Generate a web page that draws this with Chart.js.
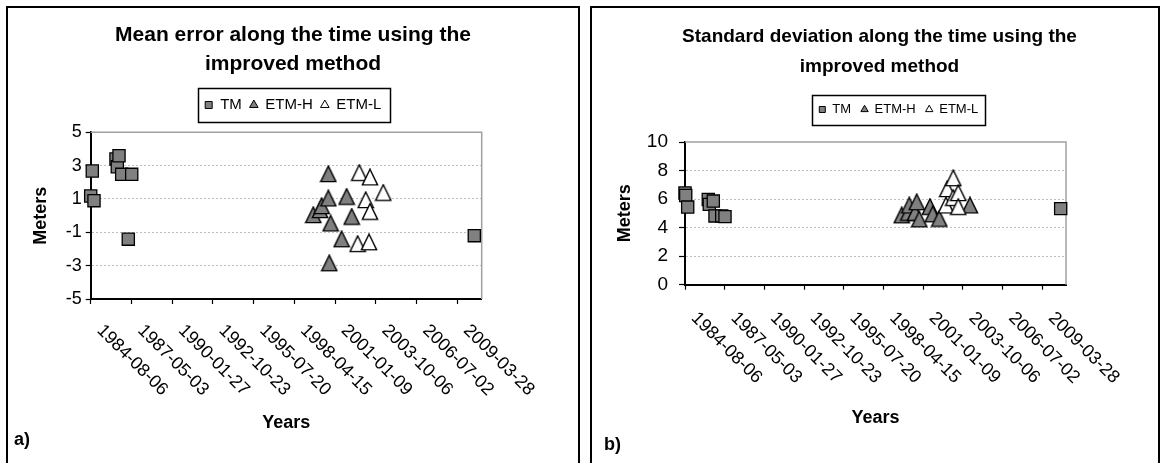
<!DOCTYPE html>
<html><head><meta charset="utf-8">
<script src="https://cdn.jsdelivr.net/npm/chart.js@4.4.1/dist/chart.umd.min.js"></script>
<style>
html,body{margin:0;padding:0;background:#fff;width:1163px;height:463px;overflow:hidden;position:relative;}
.panel{position:absolute;border:2px solid #000;box-sizing:border-box;}
canvas{position:absolute;}
</style></head><body>
<div class="panel" style="left:6px;top:6px;width:574px;height:480px"></div>
<div class="panel" style="left:590px;top:6px;width:570px;height:480px"></div>
<canvas id="c1" width="568" height="454" style="left:9px;top:9px"></canvas>
<canvas id="c2" width="567" height="454" style="left:590px;top:9px"></canvas>
<script>
// ---- shared axis data ----
const tickLabels = ['1984-08-06','1987-05-03','1990-01-27','1992-10-23','1995-07-20','1998-04-15','2001-01-09','2003-10-06','2006-07-02','2009-03-28'];
const tickDays = [0,1000,2000,3000,4000,5000,6000,7000,8000,9000]; // days since 1984-08-06
const axisMaxDays = 9600;
const seriesNames = ['TM','ETM-H','ETM-L'];

// ---- a) Mean error (days since 1984-08-06, metres) ----
const meanTmDays     = [0, 39, 81, 621, 653, 695, 761, 923, 1007, 9418];
const meanTmValues   = [1.18, 2.68, 0.90, 3.40, 2.93, 3.59, 2.48, -1.41, 2.48, -1.20];
const meanEtmHDays   = [5465, 5630, 5671, 5834, 5834, 5858, 5892, 6162, 6285, 6408];
const meanEtmHValues = [0.04, 0.34, 0.58, 2.50, 1.04, -2.85, -0.46, -1.41, 1.14, -0.06];
const meanEtmLDays   = [6555, 6595, 6752, 6833, 6857, 6857, 7184];
const meanEtmLValues = [-1.69, 2.57, 0.94, -1.59, 2.30, 0.24, 1.38];
const meanYTicks     = [-5, -3, -1, 1, 3, 5];

// ---- b) Standard deviation ----
const sdTmDays     = [0, 18, 68, 587, 612, 713, 756, 925, 1008, 9466];
const sdTmValues   = [6.43, 6.25, 5.44, 5.97, 5.63, 5.86, 4.82, 4.82, 4.77, 5.33];
const sdEtmHDays   = [5460, 5626, 5651, 5795, 5838, 5903, 6173, 6241, 6407, 7181];
const sdEtmHValues = [4.87, 5.05, 5.56, 5.05, 5.79, 4.59, 5.46, 4.94, 4.63, 5.56];
const sdEtmLDays   = [6576, 6609, 6760, 6760, 6886, 6886];
const sdEtmLValues = [5.56, 6.71, 7.47, 6.09, 6.43, 5.46];
const sdYTicks     = [0, 2, 4, 6, 8, 10];

const FONT = "'Liberation Sans', Arial, sans-serif";
Chart.defaults.font.family = FONT;
Chart.defaults.color = '#000';

// Linear day scale whose rotated labels hang down-right from the tick
const BaseLinear = Chart.LinearScale || Chart.registry.getScale('linear');
class DayScale extends BaseLinear {
  _getXAxisLabelAlignment() { return 'left'; }
}
DayScale.id = 'dayScale';
DayScale.defaults = BaseLinear.defaults;
Chart.register(DayScale);

function triImage(fill) {
  const c = document.createElement('canvas');
  c.width = 18; c.height = 18;
  const g = c.getContext('2d');
  g.beginPath();
  g.moveTo(9, 1.0); g.lineTo(16.6, 16.6); g.lineTo(1.4, 16.6); g.closePath();
  g.fillStyle = fill; g.fill();
  g.lineWidth = 1.4; g.strokeStyle = '#000'; g.lineJoin = 'miter'; g.stroke();
  return c;
}
const triGray = triImage('#808080');
const triWhite = triImage('#ffffff');
const legendStyles = ['rect', 'triangle', 'triangle'];

const extras = {
  id: 'extras',
  afterLayout(chart, args, o) {
    if (o.legendShift) { chart.legend.left += o.legendShift; chart.legend.right += o.legendShift; }
    if (o.titleShift) { chart.titleBlock.left += o.titleShift; chart.titleBlock.right += o.titleShift; }
  },
  beforeDatasetsDraw(chart, args, o) {
    const {ctx, chartArea: a} = chart;
    ctx.save();
    ctx.strokeStyle = '#a0a0a0'; ctx.lineWidth = 1.5;
    ctx.beginPath();
    ctx.moveTo(a.left, a.top); ctx.lineTo(a.right, a.top); ctx.lineTo(a.right, a.bottom);
    ctx.stroke();
    ctx.restore();
  },
  afterDraw(chart, args, o) {
    const ctx = chart.ctx;
    const hb = chart.legend.legendHitBoxes;
    if (hb && hb.length) {
      let l = Infinity, r = -Infinity;
      hb.forEach(h => { l = Math.min(l, h.left); r = Math.max(r, h.left + h.width); });
      const cy = hb[0].top + hb[0].height / 2;
      ctx.save();
      ctx.strokeStyle = '#000'; ctx.lineWidth = 1.5;
      ctx.strokeRect(Math.round(l - o.boxPadL) + 0.5, Math.round(cy - o.boxHalfH) + 0.5,
                     Math.round(r - l + o.boxPadL + o.boxPadR), Math.round(2 * o.boxHalfH));
      ctx.restore();
    }
    ctx.save();
    ctx.font = 'bold 18px ' + FONT;
    ctx.fillStyle = '#000'; ctx.textAlign = 'left'; ctx.textBaseline = 'middle';
    ctx.fillText(o.panelLabel, o.panelX, o.panelY);
    ctx.restore();
  }
};

function pts(days, vals) { return days.map((d, i) => ({x: d, y: vals[i]})); }

function buildConfig(p) {
  const ds = (label, data, style, fill, order, radius) => ({
    label, data, order, clip: false,
    pointStyle: style, pointRadius: radius, pointHoverRadius: radius,
    backgroundColor: fill, borderColor: '#000', borderWidth: 1.3,
    pointBackgroundColor: fill, pointBorderColor: '#000', pointBorderWidth: 1.3,
    showLine: false
  });
  const gridColor = (min, max) => c => (c.tick && (c.tick.value === min || c.tick.value === max)) ? 'rgba(0,0,0,0)' : '#bdbdbd';
  return {
    type: 'scatter',
    data: { datasets: [
      ds(seriesNames[0], pts(p.tmDays, p.tmValues), 'rect', '#808080', 2, 8.6),
      ds(seriesNames[1], pts(p.hDays, p.hValues), triGray, '#808080', 1, 9),
      ds(seriesNames[2], pts(p.lDays, p.lValues), triWhite, '#ffffff', 0, 9)
    ]},
    options: {
      responsive: false, animation: false, events: [],
      layout: { padding: 0 },
      plugins: {
        tooltip: { enabled: false },
        title: { display: true, text: p.title, color: '#000',
          font: { size: p.titleSize, weight: 'bold', lineHeight: p.titleLH },
          padding: { top: p.titlePadTop, bottom: p.titlePadBottom } },
        subtitle: { display: true, text: '', weight: 500,
          font: { size: 2, lineHeight: 1 }, padding: { top: p.spacer, bottom: 0 } },
        legend: { display: true, position: 'top',
          labels: { usePointStyle: true, boxWidth: p.legBox + 1, boxHeight: p.legBox,
            padding: p.legPad, color: '#000', font: { size: p.legSize },
            generateLabels(chart) {
              const items = Chart.defaults.plugins.legend.labels.generateLabels(chart);
              items.forEach(it => { it.pointStyle = legendStyles[it.datasetIndex]; it.lineWidth = 1; });
              return items;
            },
            sort: (a, b) => a.datasetIndex - b.datasetIndex }
        },
        extras: { legendShift: p.legendShift, titleShift: p.titleShift,
          boxPadL: p.boxPadL, boxPadR: p.boxPadR, boxHalfH: p.boxHalfH,
          panelLabel: p.panelLabel, panelX: p.panelX, panelY: p.panelY }
      },
      scales: {
        x: { type: 'dayScale', position: 'bottom', min: 0, max: axisMaxDays,
          afterBuildTicks: s => { s.ticks = tickDays.map(v => ({value: v})); },
          ticks: { callback: v => tickLabels[tickDays.indexOf(v)], minRotation: -45, maxRotation: -45,
            autoSkip: false, font: { size: 18 }, color: '#000', padding: p.xTickPad, labelOffset: p.xLabelOffset },
          grid: { drawOnChartArea: false, drawTicks: true, tickLength: 5, tickColor: '#000', tickWidth: 1.2 },
          border: { color: '#000', width: 2 },
          title: { display: true, text: 'Years', color: '#000', font: { size: 18, weight: 'bold' },
            padding: { top: 0, bottom: p.yearsPad } },
          afterFit: s => { s.height = p.xHeight; } },
        y: { type: 'linear', position: 'left', min: p.yTicks[0], max: p.yTicks[p.yTicks.length - 1],
          afterBuildTicks: s => { s.ticks = p.yTicks.map(v => ({value: v})); },
          ticks: { callback: v => String(v), font: { size: p.yTickSize }, color: '#000', padding: p.yTickPad },
          grid: { color: gridColor(p.yTicks[0], p.yTicks[p.yTicks.length - 1]), lineWidth: 1,
            drawTicks: true, tickLength: p.yTickLen, tickColor: '#000', tickWidth: 1.2 },
          border: { color: '#000', width: 2, dash: [2, 2] },
          title: { display: true, text: 'Meters', color: '#000', font: { size: 18, weight: 'bold' },
            padding: { top: p.metersPad, bottom: 0 } },
          afterFit: s => { s.width = p.yWidth; } },
        yR: { type: 'linear', position: 'right', display: true,
          ticks: { display: false }, grid: { display: false }, border: { display: false },
          afterFit: s => { s.width = p.rightPad; } }
      }
    },
    plugins: [extras]
  };
}

new Chart(document.getElementById('c1'), buildConfig({
  tmDays: meanTmDays, tmValues: meanTmValues, hDays: meanEtmHDays, hValues: meanEtmHValues,
  lDays: meanEtmLDays, lValues: meanEtmLValues, yTicks: meanYTicks,
  title: ['Mean error along the time using the', 'improved method'],
  titleSize: 21, titleLH: 28.5 / 21, titlePadTop: 12.25, titlePadBottom: 11.25,
  legSize: 15, legBox: 7, legPad: 8, spacer: 7.8, legendShift: 0, titleShift: 0,
  boxPadL: 7, boxPadR: 8, boxHalfH: 17,
  panelLabel: 'a)', panelX: 5, panelY: 431,
  xTickPad: 16, xLabelOffset: 9, yearsPad: 29.2, xHeight: 164,
  yTickSize: 18, yTickPad: 4, yTickLen: 5, metersPad: 21.7, yWidth: 81.7, rightPad: 95.3
}));

new Chart(document.getElementById('c2'), buildConfig({
  tmDays: sdTmDays, tmValues: sdTmValues, hDays: sdEtmHDays, hValues: sdEtmHValues,
  lDays: sdEtmLDays, lValues: sdEtmLValues, yTicks: sdYTicks,
  title: ['Standard deviation along the time using the', 'improved method'],
  titleSize: 19, titleLH: 30 / 19, titlePadTop: 13, titlePadBottom: 11,
  legSize: 13, legBox: 6, legPad: 10, spacer: 14, legendShift: 25, titleShift: 6,
  boxPadL: 7, boxPadR: 7, boxHalfH: 15,
  panelLabel: 'b)', panelX: 14, panelY: 436,
  xTickPad: 18, xLabelOffset: 9, yearsPad: 34.2, xHeight: 178.3,
  yTickSize: 19, yTickPad: 11, yTickLen: 6, metersPad: 23.8, yWidth: 95, rightPad: 91
}));
</script>
</body></html>
